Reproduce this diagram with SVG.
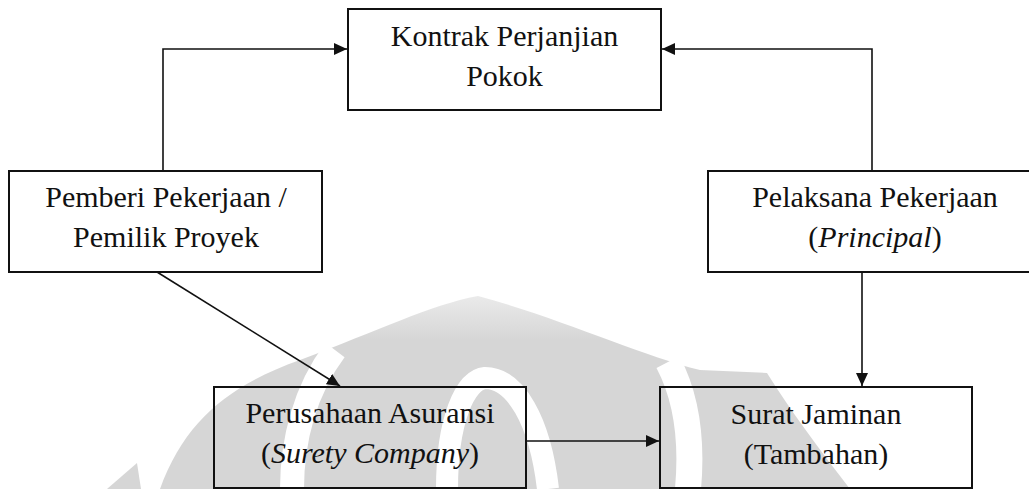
<svg xmlns="http://www.w3.org/2000/svg" width="1029" height="489" viewBox="0 0 1029 489">
  <style>
    .box { fill: none; stroke: #111; stroke-width: 2; }
    .lbl { font-family: "Liberation Serif", "Times New Roman", serif; font-size: 30px; fill: #111; text-anchor: middle; }
    .it { font-style: italic; }
    .conn { fill: none; stroke: #111; stroke-width: 1.6; }
    .wm { fill: url(#wmfade); }
    .gap { fill: none; stroke: #ffffff; }
  </style>
  <defs>
    <marker id="arrow" markerUnits="userSpaceOnUse" markerWidth="14" markerHeight="12" refX="13" refY="6" orient="auto">
      <path d="M0,0 L13,6 L0,12 Z" fill="#111"/>
    </marker>
    <linearGradient id="wmfade" gradientUnits="userSpaceOnUse" x1="0" y1="292" x2="0" y2="340">
      <stop offset="0" stop-color="#ececec"/>
      <stop offset="1" stop-color="#d6d6d6"/>
    </linearGradient>
  </defs>

  <rect width="1029" height="489" fill="#ffffff"/>

  <g id="watermark">
    <path class="wm" d="M160 489 C185 420 230 385 300 360 C380 330 430 305 478 296 C560 318 640 355 700 370 L767 373 C790 410 820 450 850 489 Z"/>
    <path class="gap" stroke-width="24" d="M335 350 C305 390 292 440 292 489"/>
    <path class="gap" stroke-width="26" d="M668 362 C688 400 692 445 688 489"/>
    <path class="gap" stroke-width="22" d="M447 489 C447 420 465 380 485 378 C515 378 540 420 548 489"/>
    <polygon points="107,489 137,463 141,489" fill="#d6d6d6"/>
  </g>

  <g id="connectors">
    <polyline class="conn" points="163,171 163,49 347,49" marker-end="url(#arrow)"/>
    <polyline class="conn" points="872,171 872,49 662,49" marker-end="url(#arrow)"/>
    <line class="conn" x1="157" y1="272" x2="340" y2="386" marker-end="url(#arrow)"/>
    <line class="conn" x1="862" y1="272" x2="862" y2="386" marker-end="url(#arrow)"/>
    <line class="conn" x1="526" y1="441" x2="659" y2="441" marker-end="url(#arrow)"/>
  </g>

  <g id="kontrak">
    <rect class="box" x="348" y="9" width="313" height="101"/>
    <text class="lbl" x="504.5" y="46">Kontrak Perjanjian</text>
    <text class="lbl" x="504.5" y="86">Pokok</text>
  </g>

  <g id="pemberi">
    <rect class="box" x="9" y="171" width="313" height="101"/>
    <text class="lbl" x="166" y="207">Pemberi Pekerjaan /</text>
    <text class="lbl" x="166" y="247">Pemilik Proyek</text>
  </g>

  <g id="pelaksana">
    <rect class="box" x="708" y="171" width="334" height="101"/>
    <text class="lbl" x="875" y="207">Pelaksana Pekerjaan</text>
    <text class="lbl" x="875" y="247">(<tspan class="it">Principal</tspan>)</text>
  </g>

  <g id="perusahaan">
    <rect class="box" x="214" y="387" width="312" height="101"/>
    <text class="lbl" x="370" y="423">Perusahaan Asuransi</text>
    <text class="lbl" x="370" y="463">(<tspan class="it">Surety Company</tspan>)</text>
  </g>

  <g id="surat">
    <rect class="box" x="660" y="387" width="312" height="101"/>
    <text class="lbl" x="816" y="424">Surat Jaminan</text>
    <text class="lbl" x="816" y="464">(Tambahan)</text>
  </g>
</svg>
